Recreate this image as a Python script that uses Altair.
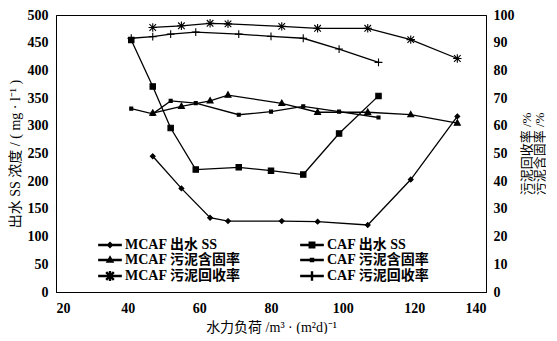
import math
import altair as alt
import pandas as pd

# ---- data ----
mcaf_x = [47, 55, 63, 68, 83, 93, 107, 119, 132]
caf_x = [41, 47, 52, 59, 71, 80, 89, 99, 110]
mcaf_ss = [245, 187, 134, 128, 128, 127, 121, 203, 317]
caf_ss = [455, 371, 296, 221, 225, 219, 212, 286, 354]
mcaf_solid = [64.6, 67, 69, 71.1, 68.1, 64.9, 64.9, 64, 61]
caf_solid = [66.2, 64.3, 69, 68.2, 64, 65.1, 67, 65.1, 63]
mcaf_recovery = [95.5, 96.1, 97, 96.8, 95.9, 95.2, 95.2, 91.1, 84.3]
caf_recovery = [91.6, 92.2, 93.1, 93.8, 93.1, 92.3, 91.6, 87.7, 82.9]

series_names = ["MCAF 出水 SS", "CAF 出水 SS", "MCAF 污泥含固率",
                "CAF 污泥含固率", "MCAF 污泥回收率", "CAF 污泥回收率"]
# legend is filled column by column
legend_order = [series_names[0], series_names[2], series_names[4],
                series_names[1], series_names[3], series_names[5]]

ss_rows = []
for name, xs, ys in [(series_names[0], mcaf_x, mcaf_ss), (series_names[1], caf_x, caf_ss)]:
    for x, y in zip(xs, ys):
        ss_rows.append({"series": name, "x": x, "v": y})
pct_rows = []
for name, xs, ys in [(series_names[2], mcaf_x, mcaf_solid), (series_names[3], caf_x, caf_solid),
                     (series_names[4], mcaf_x, mcaf_recovery), (series_names[5], caf_x, caf_recovery)]:
    for x, y in zip(xs, ys):
        pct_rows.append({"series": name, "x": x, "v": y})
ss_df = pd.DataFrame(ss_rows)
pct_df = pd.DataFrame(pct_rows)


def bar(x1, y1, x2, y2, w):
    """thin filled rectangle between two points (for filled-only legend symbols)"""
    dx, dy = x2 - x1, y2 - y1
    L = math.hypot(dx, dy)
    nx, ny = -dy / L * w, dx / L * w
    pts = [(x1 + nx, y1 + ny), (x2 + nx, y2 + ny), (x2 - nx, y2 - ny), (x1 - nx, y1 - ny)]
    return "M" + "L".join(f"{a:.3f},{b:.3f}" for a, b in pts) + "Z"


# marker shapes for the plot (custom symbol paths)
marker = {
    series_names[0]: "M0,-0.8L0.8,0L0,0.8L-0.8,0Z",
    series_names[1]: "M-0.9,-0.9H0.9V0.9H-0.9Z",
    series_names[2]: "M0,-1.1L1,0.7H-1Z",
    series_names[3]: "M-0.5,-0.5H0.5V0.5H-0.5Z",
    series_names[4]: "M-1.1,-1.1L1.1,1.1M-1.1,1.1L1.1,-1.1M-1.4,0H1.4M0,-1.4V1.4",
    series_names[5]: "M-1.3,0H1.3M0,-1.3V1.3",
}
# filled-only versions for the legend, with the line through them
hw = 0.15
legend_marker = {
    series_names[0]: marker[series_names[0]],
    series_names[1]: marker[series_names[1]],
    series_names[2]: marker[series_names[2]],
    series_names[3]: marker[series_names[3]],
    series_names[4]: bar(-1.1, -1.1, 1.1, 1.1, hw) + bar(-1.1, 1.1, 1.1, -1.1, hw) + bar(0, -1.4, 0, 1.4, hw),
    series_names[5]: bar(0, -1.3, 0, 1.3, hw),
}
legend_line = bar(-3.7, 0, 3.7, 0, hw)

SERIF = "Liberation Serif, Noto Sans CJK SC"

x_enc = alt.X("x:Q", scale=alt.Scale(domain=[20, 140], nice=False),
              axis=alt.Axis(values=[20, 40, 60, 80, 100, 120, 140], grid=False, ticks=False,
                            labelPadding=9, labelFontWeight="bold",
                            title="水力负荷 /m³ · (m²d)⁻¹", titlePadding=5))


def group(df, names, y_axis):
    base = alt.Chart(df)
    line = base.mark_line(color="black", strokeWidth=1.3).encode(
        x=x_enc, y=y_axis, detail="series:N")
    pts = base.mark_point(fill="black", stroke="black", strokeWidth=1.1, opacity=1, size=36).encode(
        x=x_enc, y=y_axis,
        shape=alt.Shape("series:N", scale=alt.Scale(domain=names, range=[marker[n] for n in names]),
                        legend=None))
    return alt.layer(line, pts)


left_y = alt.Y("v:Q", scale=alt.Scale(domain=[0, 500], nice=False),
               axis=alt.Axis(values=list(range(0, 501, 50)), grid=False, ticks=False,
                             labelPadding=8, labelFontWeight="bold",
                             title="出水 SS 浓度 / ( mg · l⁻¹ )", titlePadding=5))
right_y = alt.Y("v:Q", scale=alt.Scale(domain=[0, 100], nice=False),
                axis=alt.Axis(orient="right", values=list(range(0, 101, 10)), grid=False, ticks=False,
                              labelPadding=7, labelFontWeight="bold",
                              title=["污泥回收率 /%", "污泥含固率 /%"], titleAngle=270,
                              titleFontSize=13, titlePadding=6, titleLineHeight=13))

left = group(ss_df, series_names[:2], left_y)
right = group(pct_df, series_names[2:], right_y)

legend_layer = alt.Chart(ss_df).transform_filter("false").mark_point(
    fill="black", stroke="black", strokeWidth=0.8, opacity=1, size=36).encode(
    shape=alt.Shape("series:N",
                    scale=alt.Scale(domain=legend_order,
                                    range=[legend_line + legend_marker[n] for n in legend_order]),
                    legend=alt.Legend(title=None, orient="none", legendX=47, legendY=223,
                                      columns=2, columnPadding=56, rowPadding=1,
                                      symbolSize=36, symbolOpacity=1, labelOffset=8,
                                      labelFont=SERIF, labelFontSize=14, labelFontWeight="bold",
                                      labelColor="black", labelLimit=200)))

chart = alt.layer(left, right, legend_layer).resolve_scale(
    y="independent", shape="independent"
).properties(width=430, height=277, padding=0).configure_view(
    stroke="black", strokeWidth=1
).configure_axis(
    labelFont="Liberation Serif", labelFontSize=14, labelColor="black",
    titleFont=SERIF, titleFontSize=14, titleFontWeight="normal", titleColor="black",
    domainColor="black", domainWidth=1
)

chart.save("out.html", embed_options={"renderer": "svg", "actions": False})
